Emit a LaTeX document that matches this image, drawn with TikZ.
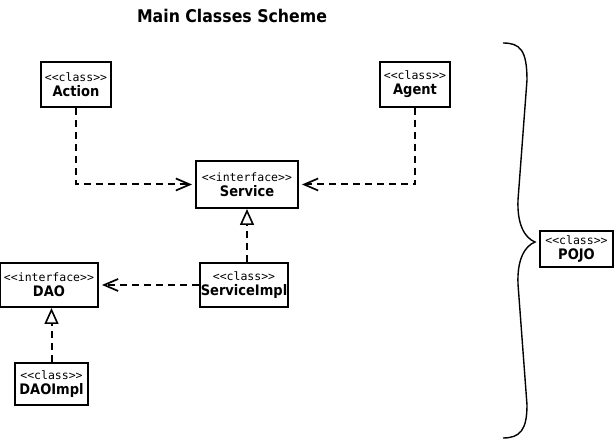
\documentclass[tikz,border=0pt]{standalone}
\usepackage{fontspec}
\setmainfont{DejaVu Sans}
\newfontfamily\namefont{DejaVu Sans Condensed}[BoldFont={DejaVu Sans Condensed Bold}]
\newfontfamily\stereofont{DejaVu Sans Mono}
\usetikzlibrary{arrows.meta}
\begin{document}
\begin{tikzpicture}[x=1pt,y=-1pt,
  umlbox/.style={draw,line width=2pt,inner sep=0pt,align=center,fill=white},
  dep/.style={line width=2pt,dash pattern=on 7pt off 5pt,shorten >=3pt,-{Straight Barb[length=14pt,width=12pt,line width=1.7pt]}},
  real/.style={line width=2pt,dash pattern=on 7pt off 5pt,-{Triangle[open,length=16pt,width=14pt,line width=1.6pt]}}]
\useasboundingbox (0,0) rectangle (614,443);
\newcommand{\umltext}[2]{{\stereofont\fontsize{11.5}{12}\selectfont <<#1>>}\\[3pt]{\namefont\bfseries\fontsize{14.5}{16}\selectfont #2}}
\node (title) at (232,16) {\namefont\bfseries\fontsize{17.5}{20}\selectfont Main Classes Scheme};
\node[umlbox,minimum width=70pt,minimum height=45pt] (action) at (76,84.5) {\umltext{class}{Action}};
\node[umlbox,minimum width=70pt,minimum height=45pt] (agent) at (415,84.5) {\umltext{class}{Agent}};
\node[umlbox,minimum width=102pt,minimum height=47pt] (service) at (247,184.5) {\umltext{interface}{Service}};
\node[umlbox,minimum width=98pt,minimum height=44pt] (dao) at (49,285) {\umltext{interface}{DAO}};
\node[umlbox,minimum width=88pt,minimum height=44pt] (serviceimpl) at (244,285) {\umltext{class}{ServiceImpl}};
\node[umlbox,minimum width=73pt,minimum height=42pt] (daoimpl) at (51.5,384) {\umltext{class}{DAOImpl}};
\node[umlbox,minimum width=73pt,minimum height=36pt] (pojo) at (576.5,249) {\umltext{class}{POJO}};
\draw[dep] (action.south) |- (service.west);
\draw[dep] (agent.south) |- (service.east);
\draw[real] (serviceimpl.north -| service.south) -- (service.south);
\draw[dep] (serviceimpl.west) -- (dao.east);
\draw[real] (daoimpl.north) -- (daoimpl.north |- dao.south);
\draw[line width=1.4pt] (503,43) .. controls (520,43) and (527,50) .. (527,80) -- (518,200) .. controls (517,225) and (525,238) .. (535,242) .. controls (525,246) and (517,259) .. (518,284) -- (527,405) .. controls (527,430) and (520,438) .. (503,438);
\end{tikzpicture}
\end{document}
